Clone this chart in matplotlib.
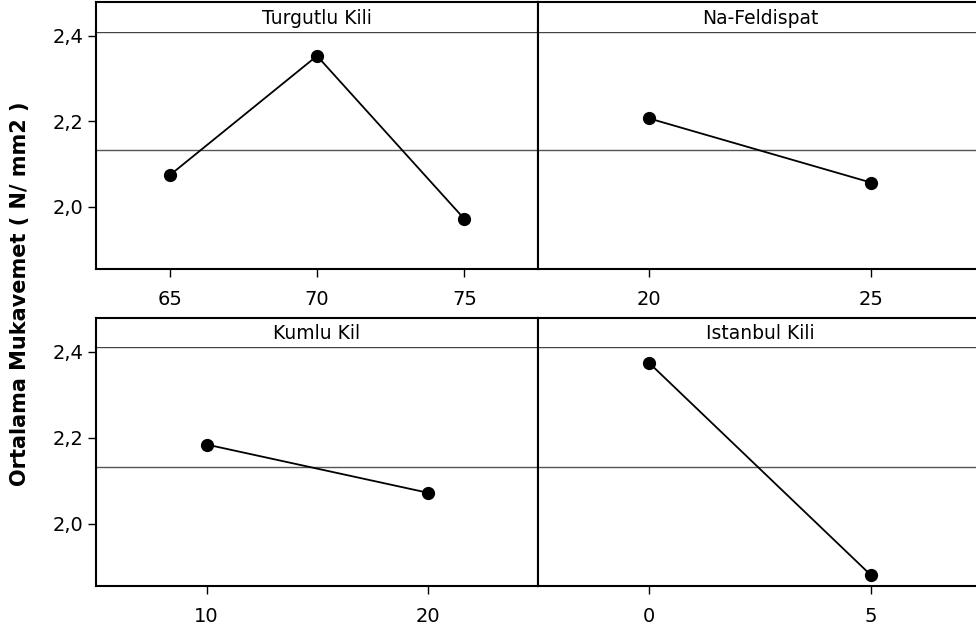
import matplotlib
matplotlib.use("Agg")
import matplotlib.pyplot as plt
from matplotlib.ticker import FuncFormatter

# Ortalama mukavemet - ana etkiler (main effects)
panel_titles = ["Turgutlu Kili", "Na-Feldispat", "Kumlu Kil", "Istanbul Kili"]

turgutlu_levels = [65, 70, 75]
turgutlu_means = [2.074, 2.353, 1.972]

feldispat_levels = [20, 25]
feldispat_means = [2.207, 2.057]

kumlu_levels = [10, 20]
kumlu_means = [2.184, 2.072]

istanbul_levels = [0, 5]
istanbul_means = [2.374, 1.880]

grand_mean = 2.132
y_ticks = [2.0, 2.2, 2.4]
y_limits = (1.855, 2.41)

W, H = 976, 630
fig = plt.figure(figsize=(W / 100, H / 100), dpi=100)
plt.rcParams['font.family'] = ['DejaVu Sans']

# piksel cinsinden yerlesim (ust serit, veri ust, alt) ve (sol, sag)
rows = [(2, 31.5, 269), (317.5, 347.3, 586)]
cols = [(96, 538), (538, 982)]

panels = [
    (turgutlu_levels, turgutlu_means),
    (feldispat_levels, feldispat_means),
    (kumlu_levels, kumlu_means),
    (istanbul_levels, istanbul_means),
]

comma_fmt = FuncFormatter(lambda v, p: f"{v:.1f}".replace(".", ","))

for i, (levels, means) in enumerate(panels):
    r, c = divmod(i, 2)
    top, strip_bottom, bottom = rows[r]
    left, right = cols[c]

    # veri alani
    ax = fig.add_axes([left / W, 1 - bottom / H, (right - left) / W, (bottom - strip_bottom) / H])
    ax.axhline(grand_mean, color="#555555", lw=1.0, zorder=1)
    ax.plot(levels, means, color="black", lw=1.3, marker="o", markersize=8.5, zorder=3)

    step = (max(levels) - min(levels)) / (len(levels) - 1)
    ax.set_xlim(min(levels) - step / 2, max(levels) + step / 2)
    ax.set_xticks(levels)
    ax.set_ylim(*y_limits)
    ax.set_yticks(y_ticks)
    ax.yaxis.set_major_formatter(comma_fmt)
    ax.tick_params(direction="out", length=6, width=1.0, labelsize=14, pad=3)
    ax.tick_params(axis="x", pad=9)
    if c == 1:
        ax.tick_params(axis="y", left=False, labelleft=False)
    for s in ["left", "right", "bottom"]:
        ax.spines[s].set_linewidth(1.5)
        ax.spines[s].set_color("black")
    ax.spines["top"].set_linewidth(1.0)
    ax.spines["top"].set_color("#444444")

    # baslik seridi
    sx = fig.add_axes([left / W, 1 - strip_bottom / H, (right - left) / W, (strip_bottom - top) / H])
    sx.set_xticks([])
    sx.set_yticks([])
    for s in ["left", "right", "top"]:
        sx.spines[s].set_linewidth(1.5)
        sx.spines[s].set_color("black")
    sx.spines["bottom"].set_visible(False)
    sx.text(0.5, 0.45, panel_titles[i], ha="center", va="center", fontsize=13.5, transform=sx.transAxes)

fig.text(0.021, 1 - 294 / H, "Ortalama Mukavemet ( N/ mm2 )", rotation=90, ha="center", va="center",
         fontsize=15, fontweight="bold")

fig.savefig("out.png", dpi=100)
